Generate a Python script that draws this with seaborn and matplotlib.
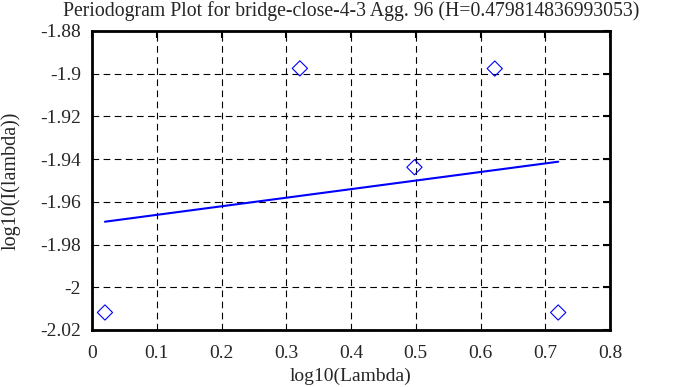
import matplotlib
matplotlib.use("Agg")
import matplotlib.pyplot as plt
import pandas as pd
import seaborn as sns

# periodogram points (log10 lambda, log10 I(lambda))
log_lambda = [0.020, 0.321, 0.498, 0.622, 0.720]
log_power = [-2.0118, -1.8975, -1.9438, -1.8976, -2.0118]

# least squares fit line endpoints
fit_x = [0.020, 0.720]
fit_y = [-1.9693, -1.9412]

title = "Periodogram Plot for bridge-close-4-3 Agg. 96 (H=0.479814836993053)"
x_ticks = [0, 0.1, 0.2, 0.3, 0.4, 0.5, 0.6, 0.7, 0.8]
y_ticks = [-2.02, -2.0, -1.98, -1.96, -1.94, -1.92, -1.9, -1.88]
y_tick_labels = ["-2.02", "-2", "-1.98", "-1.96", "-1.94", "-1.92", "-1.9", "-1.88"]

sns.set_theme(style="white")
plt.rcParams["font.family"] = ["Liberation Serif", "DejaVu Serif"]
plt.rcParams["font.size"] = 14

points = pd.DataFrame({"x": log_lambda, "y": log_power})
fit = pd.DataFrame({"x": fit_x, "y": fit_y})

fig = plt.figure(figsize=(6.93, 3.87), dpi=100)
ax = fig.add_axes([92 / 693, 1 - 330 / 387, (610 - 92) / 693, (330 - 31) / 387])

sns.lineplot(data=fit, x="x", y="y", ax=ax, color="#0000ff", linewidth=1.5, zorder=3)
sns.scatterplot(data=points, x="x", y="y", ax=ax, marker="D", s=60,
                facecolors="none", edgecolor="#0000ff", linewidth=0.8, zorder=4)

ax.set_xlim(0, 0.8)
ax.set_ylim(-2.02, -1.88)
ax.set_xticks(x_ticks)
ax.set_xticklabels([f"{t:g}" for t in x_ticks])
ax.set_yticks(y_ticks)
ax.set_yticklabels(y_tick_labels)

ax.grid(True, color="black", linestyle=(0, (6, 4)), linewidth=0.8)
ax.tick_params(direction="in", length=5, width=1.5, color="black",
               top=True, right=True, labelsize=14)
ax.tick_params(axis="x", pad=11)
ax.tick_params(axis="y", pad=8)
for s in ax.spines.values():
    s.set_color("black")
    s.set_linewidth(2)

ax.set_xlabel("log10(Lambda)", fontsize=14, labelpad=4)
ax.set_ylabel("log10(I(lambda))", fontsize=14.5, labelpad=14)
ax.set_title(title, fontsize=14.2, pad=11)

fig.savefig("out.png", dpi=100)
